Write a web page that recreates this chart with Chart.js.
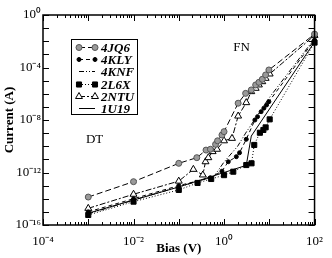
<!DOCTYPE html>
<html><head><meta charset="utf-8">
<script src="https://cdn.jsdelivr.net/npm/chart.js@4/dist/chart.umd.min.js"></script>
<style>html,body{margin:0;padding:0;background:#fff;}</style>
</head><body>
<canvas id="c" width="332" height="258"></canvas>
<script>
// ---- data ----
const seriesNames = ['4JQ6', '4KLY', '4KNF', '2L6X', '2NTU', '1U19'];

const bias4JQ6 = [1e-3, 1e-2, 0.1, 0.25, 0.4, 0.5, 0.65, 0.72, 0.9, 1.0, 2.05, 3.0, 4.0, 5.0, 5.9, 7.0, 8.3, 9.8, 100];
const curr4JQ6 = [1.35e-14, 2e-13, 5e-12, 1.35e-11, 5.1e-11, 5.9e-11, 1.4e-10, 2.6e-10, 7.2e-10, 1.3e-9, 1.9e-7, 1.07e-6, 1.95e-6, 4.7e-6, 7.4e-6, 1.26e-5, 2.7e-5, 6.5e-5, 3.5e-2];

const bias4KLY = [1e-3, 1e-2, 0.1, 0.5, 0.9, 1.24, 1.87, 2.2, 3.1, 4.8, 5.5, 6.6, 7.6, 8.7, 9.8, 100];
const curr4KLY = [1e-15, 1e-14, 1e-13, 4e-13, 1.26e-12, 6.6e-12, 1.6e-11, 3.2e-11, 3.4e-10, 1e-8, 1.8e-8, 4.3e-8, 8e-8, 1.4e-7, 2.5e-7, 1.26e-2];

const bias4KNF = [1e-3, 1e-2, 0.1, 0.6, 1.0, 2.0, 3.0, 10, 100];
const curr4KNF = [7e-16, 8e-15, 8e-14, 5e-13, 6.3e-12, 1e-10, 1e-9, 5e-7, 1.6e-2];

const bias2L6X = [1e-3, 1e-2, 0.1, 0.26, 0.52, 1.0, 1.6, 3.1, 4.05, 4.65, 6.2, 7.4, 8.3, 10.2, 100];
const curr2L6X = [5.8e-16, 6e-15, 4.7e-14, 1.6e-13, 3.2e-13, 6.3e-13, 1.15e-12, 3.7e-12, 5e-12, 1.26e-10, 1.07e-9, 1.74e-9, 2.75e-9, 1.12e-8, 7.9e-3];

const bias2NTU = [1e-3, 1e-2, 0.1, 0.21, 0.34, 0.39, 0.45, 0.56, 0.7, 1.0, 1.5, 2.05, 3.1, 4.0, 5.0, 5.9, 7.0, 8.3, 10.2, 100];
const curr2NTU = [1.86e-15, 2.2e-14, 2.2e-13, 1.74e-12, 6.5e-13, 6.6e-12, 1.35e-11, 3.9e-11, 5.9e-11, 2.6e-10, 4e-10, 2e-8, 2.1e-7, 1.45e-6, 2.6e-6, 4.7e-6, 8.3e-6, 1.5e-5, 3.2e-5, 2.8e-2];

const bias1U19 = [1e-3, 1e-2, 0.1, 1.0, 3.1, 4.0, 100];
const curr1U19 = [7.9e-16, 7.9e-15, 7.9e-14, 1e-12, 3.5e-12, 6e-10, 8.9e-3];

const xTickExponents = [-4, -2, 0, 2];
const yTickExponents = [0, -4, -8, -12, -16];
const regionLabels = ['DT', 'FN'];
const regionBias = [1.38e-3, 2.44];
const regionCurrent = [3e-10, 3.1e-3];

// ---- styling ----
const SERIF = "'Liberation Serif', 'Times New Roman', serif";
const SUP = {'-': '\u207B', '0': '\u2070', '1': '\u00B9', '2': '\u00B2', '3': '\u00B3', '4': '\u2074', '5': '\u2075', '6': '\u2076', '7': '\u2077', '8': '\u2078', '9': '\u2079'};
const sup = n => String(n).split('').map(c => SUP[c]).join('');
const pts = (xs, ys) => xs.map((x, i) => ({x: x, y: ys[i]}));

const styles = [
  {pointStyle: 'circle', pointRadius: 3, pointBackgroundColor: '#9a9a9a', pointBorderColor: '#555', borderDash: [6, 3]},
  {pointStyle: 'circle', pointRadius: 2, pointBackgroundColor: '#000', pointBorderColor: '#000', borderDash: [4, 3]},
  {pointStyle: 'circle', pointRadius: 0, pointBackgroundColor: '#000', pointBorderColor: '#000', borderDash: [5, 2, 1, 2, 1, 2]},
  {pointStyle: 'rect', pointRadius: 3.6, pointBackgroundColor: '#000', pointBorderColor: '#000', borderDash: [1, 2]},
  {pointStyle: 'triangle', pointRadius: 4, pointBackgroundColor: '#fff', pointBorderColor: '#000', borderDash: [6, 2, 2, 2]},
  {pointStyle: 'circle', pointRadius: 0, pointBackgroundColor: '#000', pointBorderColor: '#000', borderDash: []}
];
const dataSets = [pts(bias4JQ6, curr4JQ6), pts(bias4KLY, curr4KLY), pts(bias4KNF, curr4KNF), pts(bias2L6X, curr2L6X), pts(bias2NTU, curr2NTU), pts(bias1U19, curr1U19)];

const datasets = seriesNames.map((name, i) => Object.assign({
  label: name, data: dataSets[i], borderColor: '#000', borderWidth: 1, tension: 0,
  pointBorderWidth: 1, pointHoverRadius: 0, clip: false, fill: false
}, styles[i]));

// inward tick marks, frame, legend, region labels
const framePlugin = {
  id: 'frame',
  afterDatasetsDraw(chart) {
    const {ctx, chartArea: a, scales: {x, y}} = chart;
    ctx.save();
    ctx.strokeStyle = '#000';
    ctx.lineWidth = 1;
    ctx.setLineDash([]);
    ctx.beginPath();
    for (let e = -4; e <= 2; e++) {
      for (let m = 1; m <= 9; m++) {
        if (e === 2 && m > 1) break;
        const px = Math.round(x.getPixelForValue(m * Math.pow(10, e))) + 0.5;
        const len = m === 1 ? 6 : 3;
        ctx.moveTo(px, a.bottom); ctx.lineTo(px, a.bottom - len);
        ctx.moveTo(px, a.top); ctx.lineTo(px, a.top + len);
      }
    }
    for (let e = -16; e <= 0; e++) {
      const py = Math.round(y.getPixelForValue(Math.pow(10, e))) + 0.5;
      ctx.moveTo(a.left, py); ctx.lineTo(a.left + 6, py);
      ctx.moveTo(a.right, py); ctx.lineTo(a.right - 6, py);
    }
    ctx.stroke();
    ctx.lineWidth = 1.5;
    ctx.strokeRect(a.left, a.top, a.right - a.left, a.bottom - a.top);

    // region labels
    ctx.fillStyle = '#000';
    ctx.font = '13px ' + SERIF;
    ctx.textAlign = 'center';
    ctx.textBaseline = 'middle';
    regionLabels.forEach((t, i) => ctx.fillText(t, x.getPixelForValue(regionBias[i]), y.getPixelForValue(regionCurrent[i])));

    // legend
    const bx = 71, by = 39, bw = 66, bh = 75, rowH = 12.2;
    ctx.fillStyle = '#fff';
    ctx.fillRect(bx, by, bw, bh);
    ctx.lineWidth = 1;
    ctx.strokeStyle = '#000';
    ctx.strokeRect(bx + 0.5, by + 0.5, bw, bh);
    chart.data.datasets.forEach((ds, i) => {
      const ry = Math.round(by + 8 + i * rowH) + 0.5;
      const x0 = 79, x1 = 95;
      ctx.setLineDash(ds.borderDash || []);
      ctx.strokeStyle = '#000';
      ctx.lineWidth = 1;
      ctx.beginPath(); ctx.moveTo(x0, ry); ctx.lineTo(x1, ry); ctx.stroke();
      ctx.setLineDash([]);
      if (ds.pointRadius > 0) {
        [x0, x1].forEach(px => {
          ctx.fillStyle = ds.pointBackgroundColor;
          ctx.strokeStyle = ds.pointBorderColor;
          ctx.lineWidth = 1;
          Chart.helpers.drawPoint(ctx, {pointStyle: ds.pointStyle, radius: ds.pointRadius, rotation: 0, borderWidth: 1}, px, ry);
        });
      }
      ctx.fillStyle = '#000';
      ctx.font = 'italic bold 13px ' + SERIF;
      ctx.textAlign = 'left';
      ctx.textBaseline = 'middle';
      ctx.fillText(ds.label, 101, ry + 1);
    });
    ctx.restore();
  }
};

const tickFont = {family: SERIF, size: 13};
const titleFont = {family: SERIF, size: 13, weight: 'bold'};

new Chart(document.getElementById('c'), {
  type: 'line',
  data: {datasets: datasets},
  options: {
    responsive: false, animation: false, devicePixelRatio: 1,
    layout: {padding: {top: 15, right: 10, left: 0, bottom: 0}},
    plugins: {legend: {display: false}, tooltip: {enabled: false}},
    events: [],
    scales: {
      x: {
        type: 'logarithmic', min: 1e-4, max: 100,
        grid: {display: false, drawTicks: false},
        border: {display: false},
        afterBuildTicks: s => { s.ticks = xTickExponents.map(e => ({value: Math.pow(10, e)})); },
        afterFit: s => { s.height = 33; },
        ticks: {autoSkip: false, maxRotation: 0, padding: 9, color: '#000', font: tickFont,
          callback: v => '10' + sup(Math.round(Math.log10(v)))},
        title: {display: true, text: 'Bias (V)', color: '#000', font: titleFont, padding: {top: 0, bottom: 2}}
      },
      y: {
        type: 'logarithmic', min: 1e-16, max: 1,
        grid: {display: false, drawTicks: false},
        border: {display: false},
        afterBuildTicks: s => { s.ticks = yTickExponents.map(e => ({value: Math.pow(10, e)})); },
        afterFit: s => { s.width = 43; },
        ticks: {autoSkip: false, padding: 2, color: '#000', font: tickFont,
          callback: v => '10' + sup(Math.round(Math.log10(v)))},
        title: {display: true, text: 'Current (A)', color: '#000', font: titleFont, padding: {top: 2, bottom: 0}}
      }
    }
  },
  plugins: [framePlugin]
});
</script>
</body></html>
